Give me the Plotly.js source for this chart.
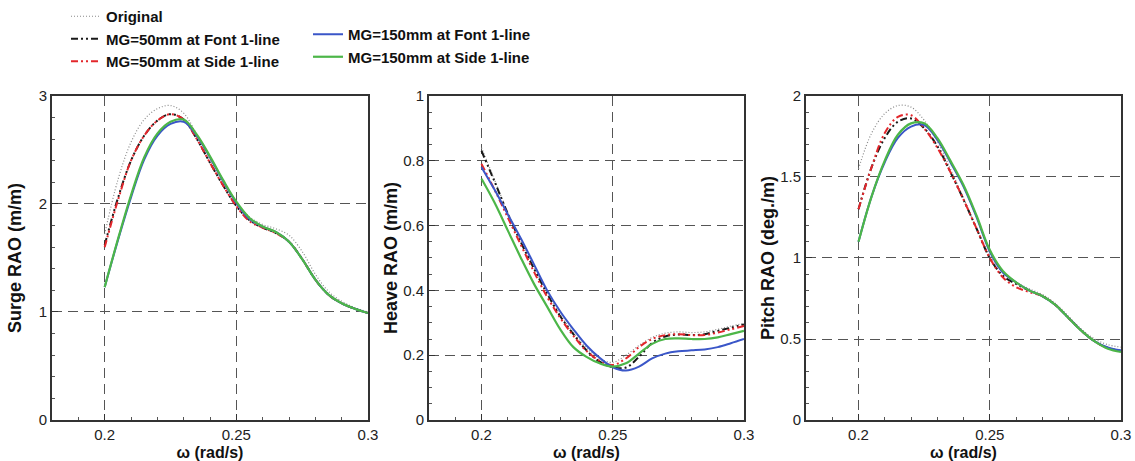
<!DOCTYPE html>
<html>
<head>
<meta charset="utf-8">
<script src="https://cdn.plot.ly/plotly-3.0.1.min.js"></script>
<style>html,body{margin:0;padding:0;background:#fff;}</style>
</head>
<body>
<div id="chart" style="width:1135px;height:461px;"></div>
<script>
// ---------- data ----------
const omega = [0.200,0.205,0.210,0.215,0.220,0.225,0.230,0.235,0.240,0.245,0.250,0.255,0.260,0.265,0.270,0.275,0.280,0.285,0.290,0.295,0.300];

const seriesNames = ['Original','MG=50mm at Font 1-line','MG=50mm at Side 1-line','MG=150mm at Font 1-line','MG=150mm at Side 1-line'];

// Surge RAO (m/m)
const surgeOriginal = [1.72,2.22,2.57,2.78,2.88,2.91,2.84,2.64,2.41,2.20,2.01,1.88,1.81,1.77,1.71,1.56,1.35,1.19,1.10,1.04,1.00];
const surgeMG50Font = [1.62,2.05,2.40,2.63,2.77,2.83,2.78,2.60,2.38,2.17,1.98,1.85,1.78,1.73,1.65,1.49,1.30,1.16,1.08,1.03,0.99];
const surgeMG50Side = [1.60,2.03,2.40,2.63,2.77,2.83,2.78,2.60,2.38,2.17,1.98,1.84,1.78,1.73,1.65,1.49,1.30,1.16,1.08,1.03,0.99];
const surgeMG150Font = [1.23,1.66,2.06,2.41,2.63,2.74,2.76,2.63,2.43,2.21,2.01,1.86,1.79,1.74,1.65,1.49,1.30,1.16,1.08,1.03,0.99];
const surgeMG150Side = [1.23,1.67,2.08,2.43,2.65,2.76,2.78,2.64,2.44,2.22,2.02,1.87,1.79,1.74,1.65,1.49,1.30,1.16,1.08,1.03,0.99];

// Heave RAO (m/m)
const heaveOriginal = [0.84,0.74,0.64,0.55,0.47,0.395,0.325,0.27,0.222,0.19,0.178,0.20,0.23,0.255,0.268,0.272,0.270,0.272,0.280,0.290,0.298];
const heaveMG50Font = [0.83,0.735,0.637,0.548,0.467,0.39,0.32,0.265,0.215,0.18,0.163,0.162,0.195,0.238,0.258,0.264,0.262,0.265,0.275,0.285,0.295];
const heaveMG50Side = [0.79,0.71,0.625,0.54,0.457,0.38,0.315,0.26,0.213,0.183,0.17,0.19,0.225,0.25,0.262,0.265,0.262,0.262,0.270,0.280,0.290];
const heaveMG150Font = [0.78,0.71,0.635,0.56,0.48,0.40,0.335,0.28,0.23,0.192,0.163,0.153,0.165,0.19,0.205,0.212,0.215,0.218,0.225,0.237,0.250];
const heaveMG150Side = [0.744,0.67,0.585,0.50,0.42,0.35,0.28,0.225,0.195,0.175,0.165,0.175,0.205,0.235,0.250,0.252,0.250,0.250,0.255,0.265,0.275];

// Pitch RAO (deg./m)
const pitchOriginal = [1.55,1.77,1.89,1.94,1.93,1.85,1.72,1.55,1.37,1.18,1.02,0.91,0.85,0.81,0.775,0.72,0.64,0.56,0.50,0.465,0.45];
const pitchMG50Font = [1.30,1.56,1.74,1.84,1.86,1.80,1.69,1.53,1.36,1.18,1.00,0.89,0.84,0.80,0.765,0.71,0.63,0.55,0.485,0.445,0.425];
const pitchMG50Side = [1.30,1.56,1.77,1.87,1.88,1.80,1.68,1.53,1.36,1.18,1.00,0.88,0.82,0.79,0.765,0.71,0.63,0.55,0.485,0.445,0.425];
const pitchMG150Font = [1.10,1.38,1.59,1.74,1.81,1.82,1.73,1.59,1.44,1.25,1.04,0.91,0.85,0.80,0.765,0.71,0.63,0.55,0.485,0.448,0.43];
const pitchMG150Side = [1.10,1.38,1.60,1.76,1.83,1.83,1.74,1.60,1.45,1.26,1.05,0.92,0.85,0.80,0.765,0.71,0.63,0.55,0.485,0.44,0.42];

// ---------- styles ----------
const styles = [
  {color:'#8a8a8a', width:1.2, dash:'1px,2px', legend:'legend'},
  {color:'#1a1a1a', width:2, dash:'7px,3px,2px,3px,2px,3px', legend:'legend'},
  {color:'#e3262b', width:2, dash:'7px,3px,2px,3px,2px,3px', legend:'legend'},
  {color:'#3a56c8', width:2, dash:'solid', legend:'legend2'},
  {color:'#4cb648', width:2.2, dash:'solid', legend:'legend2'}
];

const panels = [
  {ys:[surgeOriginal,surgeMG50Font,surgeMG50Side,surgeMG150Font,surgeMG150Side], xa:'x', ya:'y'},
  {ys:[heaveOriginal,heaveMG50Font,heaveMG50Side,heaveMG150Font,heaveMG150Side], xa:'x2', ya:'y2'},
  {ys:[pitchOriginal,pitchMG50Font,pitchMG50Side,pitchMG150Font,pitchMG150Side], xa:'x3', ya:'y3'}
];

const traces = [];
panels.forEach((p, pi) => {
  p.ys.forEach((yv, si) => {
    const s = styles[si];
    traces.push({
      x: omega, y: yv, xaxis: p.xa, yaxis: p.ya,
      type: 'scatter', mode: 'lines',
      name: seriesNames[si], legendgroup: 'g' + si,
      legend: s.legend,
      showlegend: pi === 0,
      line: {color: s.color, width: s.width, dash: s.dash, shape: 'spline', smoothing: 1}
    });
  });
});

const FONT = 'Liberation Sans, Arial, sans-serif';
const W = 1135, H = 461;
const yDom = [(461-420)/H, (461-95)/H];
const GRIDDASH = '10px,6px';

function xAxis(d0, d1, anchor) {
  return {
    domain: [d0/W, d1/W], anchor: anchor,
    range: [0.18, 0.3], tick0: 0.2, dtick: 0.05,
    ticks: 'inside', ticklen: 6, tickwidth: 1, tickcolor: '#333',
    showline: true, linecolor: '#333', linewidth: 2, mirror: true,
    showgrid: true, gridcolor: '#555', gridwidth: 1, griddash: GRIDDASH,
    zeroline: false,
    minor: {dtick: 0.01, tick0: 0.2, ticks: 'inside', ticklen: 3, tickcolor: '#555', showgrid: false},
    tickfont: {family: FONT, size: 15, color: '#222'},
    title: {text: 'ω (rad/s)', font: {family: FONT, size: 16, color: '#111', weight: 'bold'}, standoff: 5},
    automargin: false, fixedrange: true
  };
}
function yAxis(anchor, range, dtick, minorDtick, title, standoff) {
  return {
    domain: yDom, anchor: anchor,
    range: range, tick0: 0, dtick: dtick,
    ticks: 'inside', ticklen: 6, tickwidth: 1, tickcolor: '#333',
    showline: true, linecolor: '#333', linewidth: 2, mirror: true,
    showgrid: true, gridcolor: '#555', gridwidth: 1, griddash: GRIDDASH,
    zeroline: false,
    minor: {dtick: minorDtick, ticks: 'inside', ticklen: 3, tickcolor: '#555', showgrid: false},
    tickfont: {family: FONT, size: 15, color: '#222'},
    title: {text: title, font: {family: FONT, size: 18, color: '#111', weight: 'bold'}, standoff: standoff},
    automargin: false, fixedrange: true
  };
}

const layout = {
  width: W, height: H,
  margin: {l: 0, r: 0, t: 0, b: 0},
  paper_bgcolor: '#fff', plot_bgcolor: '#fff',
  xaxis: xAxis(52, 368, 'y'),
  yaxis: yAxis('x', [0, 3], 1, 0.2, 'Surge RAO (m/m)', 12),
  xaxis2: xAxis(429, 744, 'y2'),
  yaxis2: yAxis('x2', [0, 1], 0.2, 0.05, 'Heave RAO (m/m)', 1),
  xaxis3: xAxis(806, 1121, 'y3'),
  yaxis3: yAxis('x3', [0, 2], 0.5, 0.1, 'Pitch RAO (deg./m)', 1),
  legend: {
    x: 66/W, xanchor: 'left', y: 1 + 1/H, yanchor: 'top',
    bgcolor: 'rgba(0,0,0,0)', borderwidth: 0,
    font: {family: FONT, size: 15, color: '#111', weight: 'bold'},
    traceorder: 'normal', tracegroupgap: 0
  },
  legend2: {
    x: 308/W, xanchor: 'left', y: 1 - 18/H, yanchor: 'top',
    bgcolor: 'rgba(0,0,0,0)', borderwidth: 0,
    font: {family: FONT, size: 15, color: '#111', weight: 'bold'},
    traceorder: 'normal', tracegroupgap: 0
  }
};

Plotly.newPlot('chart', traces, layout, {staticPlot: true, displayModeBar: false});
</script>
</body>
</html>
